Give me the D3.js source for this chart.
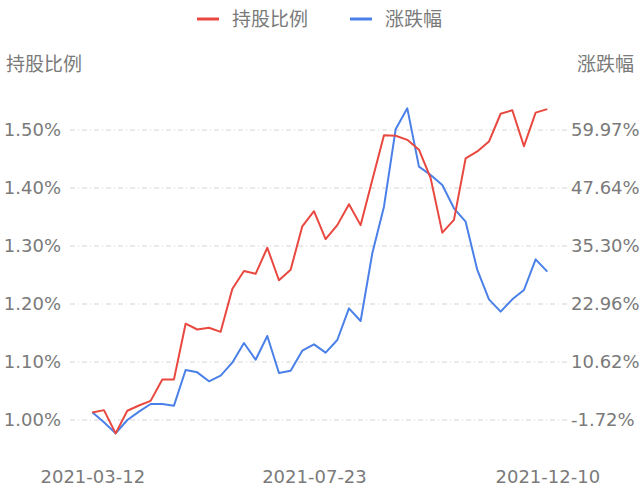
<!DOCTYPE html>
<html>
<head>
<meta charset="utf-8">
<script src="https://cdn.jsdelivr.net/npm/d3@7"></script>
<style>
  body { margin: 0; background: #fff; }
  text { font-family: "DejaVu Sans", "Noto Sans CJK SC", sans-serif; fill: #7a7a7a; }
  .cjk { font-family: "Noto Sans CJK SC", sans-serif; }
</style>
</head>
<body>
<div id="chart"></div>
<script>
// weekly dates
var dates = ["2021-03-12","2021-03-19","2021-03-26","2021-04-02","2021-04-09","2021-04-16","2021-04-23","2021-04-30",
  "2021-05-07","2021-05-14","2021-05-21","2021-05-28","2021-06-04","2021-06-11","2021-06-18","2021-06-25",
  "2021-07-02","2021-07-09","2021-07-16","2021-07-23","2021-07-30","2021-08-06","2021-08-13","2021-08-20",
  "2021-08-27","2021-09-03","2021-09-10","2021-09-17","2021-09-24","2021-10-01","2021-10-08","2021-10-15",
  "2021-10-22","2021-10-29","2021-11-05","2021-11-12","2021-11-19","2021-11-26","2021-12-03","2021-12-10"];

// 持股比例 (%)
var holdRatio = [1.013,1.017,0.977,1.016,1.025,1.033,1.070,1.070,1.166,1.156,1.159,1.152,1.226,1.257,1.252,1.297,
  1.241,1.259,1.334,1.360,1.312,1.336,1.372,1.336,1.414,1.491,1.490,1.483,1.466,1.417,1.323,1.345,
  1.451,1.463,1.480,1.528,1.534,1.472,1.530,1.536];

// 涨跌幅 (%)
var change = [-0.09,-2.2,-4.56,-1.72,0.05,1.68,1.68,1.33,8.92,8.42,6.51,7.71,10.48,14.66,11.11,16.15,
  8.28,8.77,13.03,14.38,12.60,15.3,22.03,19.34,33.73,43.66,60.11,64.58,52.17,50.40,48.27,43.31,
  40.47,30.19,23.95,21.33,23.95,25.93,32.46,29.84];

var leftTicks = [1.0, 1.1, 1.2, 1.3, 1.4, 1.5];
var rightTicks = [-1.72, 10.62, 22.96, 35.30, 47.64, 59.97];
var xTickDates = ["2021-03-12", "2021-07-23", "2021-12-10"];

var w = 640, h = 493;
var red = "#e8483f", blue = "#4a80e8";

var svg = d3.select("#chart").append("svg")
  .attr("width", w).attr("height", h);

var x = d3.scalePoint().domain(dates).range([92.3, 547.3]);
var yL = d3.scaleLinear().domain([1.0, 1.5]).range([420, 130]);
var yR = d3.scaleLinear().domain([-1.72, 59.97]).range([420, 130]);

// grid
svg.selectAll(".grid").data(leftTicks).enter().append("line")
  .attr("class", "grid")
  .attr("x1", 70).attr("x2", 570)
  .attr("y1", function(d){ return yL(d); })
  .attr("y2", function(d){ return yL(d); })
  .attr("stroke", "#d4d4d4")
  .attr("stroke-dasharray", "5,3,1,3");

// left axis
var leftAxis = d3.axisLeft(yL).tickValues(leftTicks).tickSize(0).tickPadding(0)
  .tickFormat(function(d){ return d.toFixed(2) + "%"; });
var gl = svg.append("g").attr("transform", "translate(61,0)").call(leftAxis);
gl.select(".domain").remove();
gl.selectAll("text").style("font-size", "18px").attr("fill", "#7a7a7a");

var rightAxis = d3.axisRight(yR).tickValues(rightTicks).tickSize(0).tickPadding(0)
  .tickFormat(function(d){ return d.toFixed(2) + "%"; });
var gr = svg.append("g").attr("transform", "translate(571,0)").call(rightAxis);
gr.select(".domain").remove();
gr.selectAll("text").style("font-size", "18px").attr("fill", "#7a7a7a");

var bottomAxis = d3.axisBottom(x).tickValues(xTickDates).tickSize(0).tickPadding(0);
var gb = svg.append("g").attr("transform", "translate(0,470)").call(bottomAxis);
gb.select(".domain").remove();
gb.selectAll("text").style("font-size", "18px").attr("fill", "#7a7a7a");

// axis titles
svg.append("text").attr("class", "cjk").attr("x", 6).attr("y", 71).style("font-size", "19px").text("持股比例");
svg.append("text").attr("class", "cjk").attr("x", 634).attr("y", 71).attr("text-anchor", "end").style("font-size", "19px").text("涨跌幅");

// lines
var lineL = d3.line().x(function(d, i){ return x(dates[i]); }).y(function(d){ return yL(d); });
var lineR = d3.line().x(function(d, i){ return x(dates[i]); }).y(function(d){ return yR(d); });

svg.append("path").datum(change).attr("d", lineR)
  .attr("fill", "none").attr("stroke", blue).attr("stroke-width", 2).attr("stroke-linejoin", "round");
svg.append("path").datum(holdRatio).attr("d", lineL)
  .attr("fill", "none").attr("stroke", red).attr("stroke-width", 2).attr("stroke-linejoin", "round");

// legend
var legend = [{name: "持股比例", color: red, x: 197}, {name: "涨跌幅", color: blue, x: 350}];
var lg = svg.selectAll(".lg").data(legend).enter().append("g").attr("class", "lg")
  .attr("transform", function(d){ return "translate(" + d.x + ",19)"; });
lg.append("line").attr("x1", 0).attr("x2", 22).attr("stroke", function(d){ return d.color; }).attr("stroke-width", 3);
lg.append("text").attr("class", "cjk").attr("x", 35).attr("dy", "0.36em").style("font-size", "19px").text(function(d){ return d.name; });
</script>
</body>
</html>
